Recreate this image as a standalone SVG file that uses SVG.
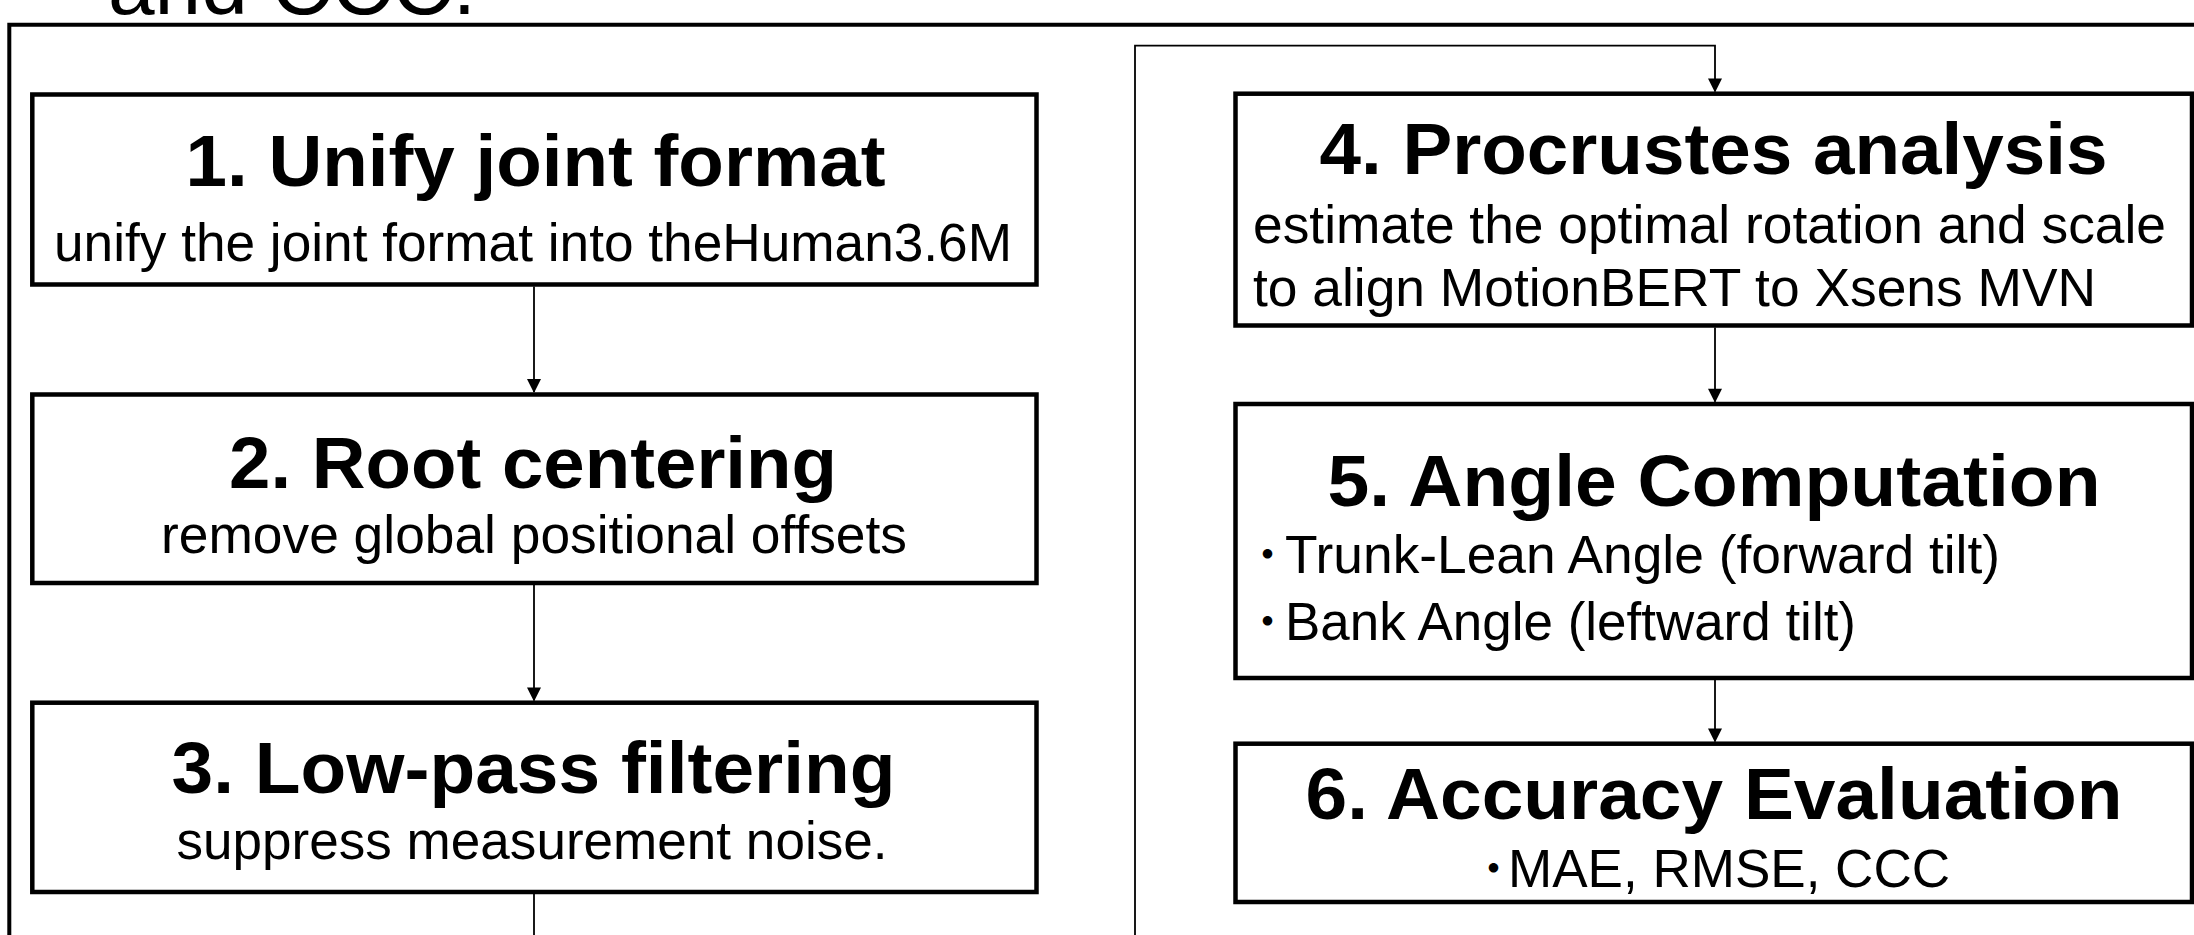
<svg xmlns="http://www.w3.org/2000/svg" width="2194" height="935" viewBox="0 0 2194 935">
<style>
.box{fill:#fff;stroke:#000;stroke-width:4.5}
.t{font-family:"Liberation Sans",Arial,sans-serif;font-weight:bold;font-size:73px;text-anchor:middle;fill:#000}
.s{font-family:"Liberation Sans",Arial,sans-serif;font-size:53px;fill:#000}
.m{text-anchor:middle}
.bul{font-family:"Noto Sans CJK JP",sans-serif;font-weight:900;font-size:34px}
.c{fill:none;stroke:#000;stroke-width:1.8}
</style>
<defs>
<marker id="ah" markerWidth="16" markerHeight="14" refX="14" refY="7.5" orient="auto" markerUnits="userSpaceOnUse" viewBox="0 0 16 15">
<path d="M0,0 L15,7.5 L0,15 Z" fill="#000"/>
</marker>
</defs>
<rect width="2194" height="935" fill="#fff"/>
<text x="108" y="14" font-family="Liberation Sans, Arial, sans-serif" font-size="83" textLength="368" lengthAdjust="spacingAndGlyphs">and CCC.</text>
<path d="M9.3,940 V24.7 H2200" fill="none" stroke="#000" stroke-width="4"/>
<g id="connectors">
<path class="c" d="M534,286.5 V392" marker-end="url(#ah)"/>
<path class="c" d="M534,585 V700.5" marker-end="url(#ah)"/>
<path class="c" d="M534,894 V940"/>
<path class="c" d="M1135,940 V45.7 H1715 V91.5" marker-end="url(#ah)"/>
<path class="c" d="M1715,327.5 V401.7" marker-end="url(#ah)"/>
<path class="c" d="M1715,680 V741.5" marker-end="url(#ah)"/>
</g>
<g id="node1">
<rect class="box" x="32.3" y="94.5" width="1004.2" height="190"/>
<text class="t" x="535.5" y="186" textLength="700" lengthAdjust="spacingAndGlyphs">1. Unify joint format</text>
<text class="s m" x="533" y="261" textLength="958" lengthAdjust="spacingAndGlyphs">unify the joint format into theHuman3.6M</text>
</g>
<g id="node2">
<rect class="box" x="32.3" y="394.5" width="1004.2" height="188.5"/>
<text class="t" x="533" y="488" textLength="608" lengthAdjust="spacingAndGlyphs">2. Root centering</text>
<text class="s m" x="534" y="553" textLength="746" lengthAdjust="spacingAndGlyphs">remove global positional offsets</text>
</g>
<g id="node3">
<rect class="box" x="32.3" y="702.7" width="1004.2" height="189.3"/>
<text class="t" x="533.5" y="793" textLength="724" lengthAdjust="spacingAndGlyphs">3. Low-pass filtering</text>
<text class="s m" x="532" y="859" textLength="711" lengthAdjust="spacingAndGlyphs">suppress measurement noise.</text>
</g>
<g id="node4">
<rect class="box" x="1235.5" y="93.7" width="956.5" height="231.8"/>
<text class="t" x="1713.5" y="174" textLength="788" lengthAdjust="spacingAndGlyphs">4. Procrustes analysis</text>
<text class="s" x="1253" y="243" textLength="913" lengthAdjust="spacingAndGlyphs">estimate the optimal rotation and scale</text>
<text class="s" x="1253" y="306" textLength="843" lengthAdjust="spacingAndGlyphs">to align MotionBERT to Xsens MVN</text>
</g>
<g id="node5">
<rect class="box" x="1235.5" y="404" width="956.5" height="274"/>
<text class="t" x="1714" y="506" textLength="773" lengthAdjust="spacingAndGlyphs">5. Angle Computation</text>
<text class="s"><tspan class="bul" x="1250.5" y="567">・</tspan><tspan x="1285" y="573" textLength="715" lengthAdjust="spacingAndGlyphs">Trunk-Lean Angle (forward tilt)</tspan></text>
<text class="s"><tspan class="bul" x="1250.5" y="634">・</tspan><tspan x="1285" y="640" textLength="571" lengthAdjust="spacingAndGlyphs">Bank Angle (leftward tilt)</tspan></text>
</g>
<g id="node6">
<rect class="box" x="1235.5" y="743.7" width="956.5" height="158.3"/>
<text class="t" x="1714" y="819" textLength="817" lengthAdjust="spacingAndGlyphs">6. Accuracy Evaluation</text>
<text class="s"><tspan class="bul" x="1476.5" y="881">・</tspan><tspan x="1508" y="887" textLength="442" lengthAdjust="spacingAndGlyphs">MAE, RMSE, CCC</tspan></text>
</g>
</svg>
